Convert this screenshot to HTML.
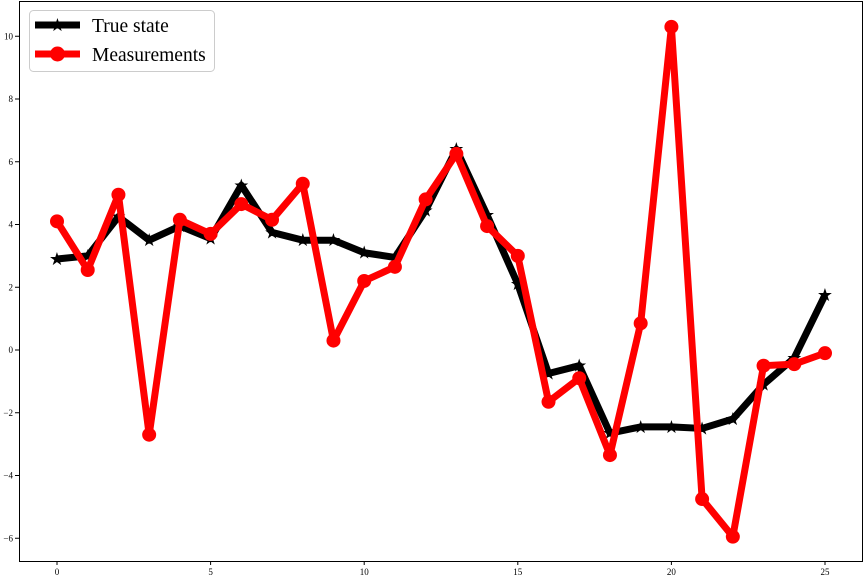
<!DOCTYPE html>
<html><head><meta charset="utf-8"><style>
html,body{margin:0;padding:0;background:#fff;}
svg{display:block;font-family:"Liberation Serif",serif;}
</style></head><body>
<svg id="chart" width="864" height="576">
<rect x="19.5" y="1.5" width="843" height="560" fill="none" stroke="#000" stroke-width="1"/>
<g id="ticks"></g>
<g id="series"></g>
<g>
<rect x="29.5" y="10.5" width="185" height="61" rx="4" fill="#fff" fill-opacity="0.85" stroke="#ccc"/>
<line x1="35" y1="25" x2="80" y2="25" stroke="#000" stroke-width="7"/>
<text x="57.5" y="31" font-size="18" text-anchor="middle" fill="#000">★</text>
<text x="92" y="32" font-size="19.5">True state</text>
<line x1="35" y1="54" x2="80" y2="54" stroke="#f00" stroke-width="7"/>
<circle cx="57.5" cy="54" r="7.5" fill="#f00"/>
<text x="92" y="61" font-size="19.5">Measurements</text>
</g>
</svg>
<script>
const trueState=[2.9,3.0,4.25,3.5,3.95,3.55,5.25,3.75,3.5,3.5,3.1,2.95,4.45,6.4,4.3,2.1,-0.75,-0.5,-2.65,-2.45,-2.45,-2.5,-2.2,-1.1,-0.25,1.75];
const measurements=[4.1,2.55,4.95,-2.7,4.15,3.7,4.65,4.15,5.3,0.3,2.2,2.65,4.8,6.25,3.95,3.0,-1.65,-0.9,-3.35,0.85,10.3,-4.75,-5.95,-0.5,-0.45,-0.1];
const xTicks=[0,5,10,15,20,25];
const yTicks=[-6,-4,-2,0,2,4,6,8,10];
const NS="http://www.w3.org/2000/svg";
function xs(v){return 57+v*30.72;}
function ys(v){return 350-v*31.375;}
function mk(tag,attrs,parent){const e=document.createElementNS(NS,tag);for(const k in attrs)e.setAttribute(k,attrs[k]);parent.appendChild(e);return e;}
const tg=document.getElementById('ticks');
xTicks.forEach(t=>{
 const l=mk('line',{x1:xs(t),x2:xs(t),y1:561,y2:565,stroke:'#000'},tg);
 
 
 const tx=mk('text',{x:xs(t),y:575,'font-size':9,'text-anchor':'middle'},tg);
 tx.textContent=t;
 
 
});
yTicks.forEach(t=>{
 const l=mk('line',{x1:15,x2:19,y1:ys(t),y2:ys(t),stroke:'#000'},tg);
 
 
 const tx=mk('text',{x:13,y:ys(t)+3,'font-size':9,'text-anchor':'end'},tg);
 tx.textContent=(t<0?'\u2212'+(-t):t);
 
 
});
const sg=document.getElementById('series');
function pts(a){return a.map((v,i)=>xs(i)+','+ys(v)).join(' ');}
const tl=mk('polyline',{points:pts(trueState),fill:'none',stroke:'#000','stroke-width':7,'stroke-linejoin':'round'},sg);


trueState.forEach((v,i)=>{
 const s=mk('text',{x:xs(i),y:ys(v)+6,'font-size':18,'text-anchor':'middle',fill:'#000'},sg);
 s.textContent='★';
 
 
});
const ml=mk('polyline',{points:pts(measurements),fill:'none',stroke:'#f00','stroke-width':7,'stroke-linejoin':'round'},sg);


measurements.forEach((v,i)=>{
 const c=mk('circle',{cx:xs(i),cy:ys(v),r:7,fill:'#f00'},sg);
 
 
});
</script>
</body></html>
